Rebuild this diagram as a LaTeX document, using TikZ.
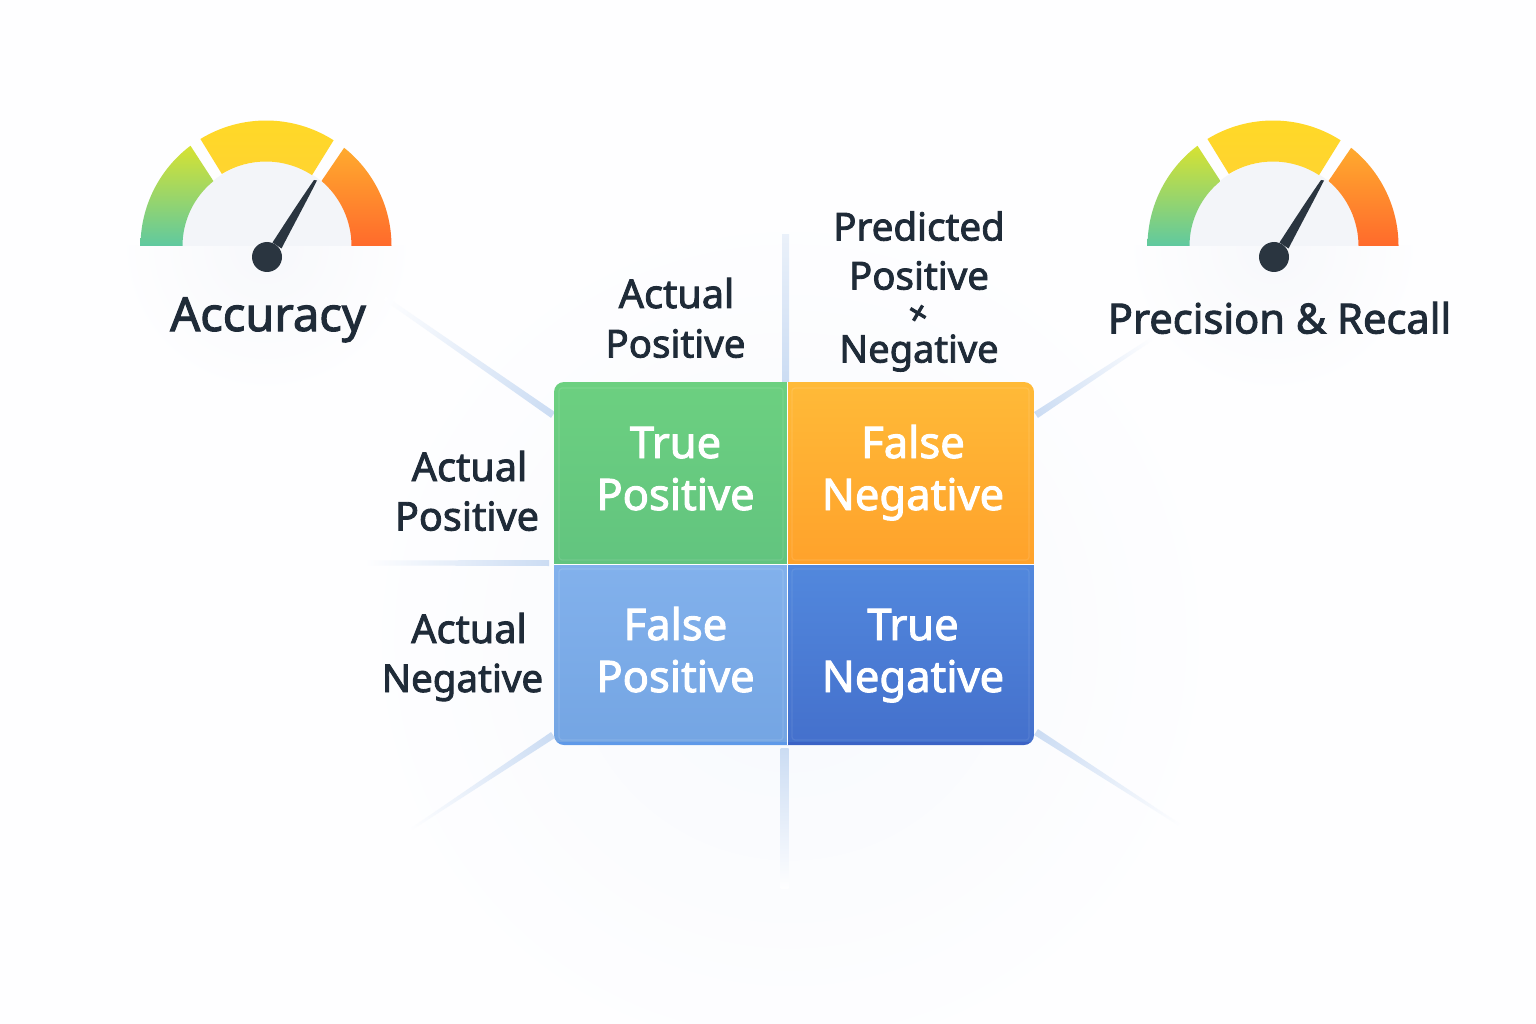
\documentclass[tikz,border=0pt]{standalone}
\usepackage{fontspec}
\setmainfont{Noto Sans}[FakeBold=2.2]
\newfontfamily\markfont{Noto Sans}[FakeBold=4]
\usetikzlibrary{calc}
\definecolor{bgc}{HTML}{FEFEFF}
\definecolor{ink}{HTML}{1F2B38}
\definecolor{faint}{HTML}{CBDCF3}
\definecolor{faintb}{HTML}{DCE7F6}
\definecolor{dial}{HTML}{F3F5F9}
\definecolor{hubc}{HTML}{2A3540}
\tikzset{
  dark label/.style={text=ink,font=\fontsize{38.5}{49}\selectfont,anchor=base,inner sep=0pt},
  dark wide/.style={dark label,font=\fontsize{39.6}{49}\selectfont},
  cell label/.style={text=white,font=\fontsize{43.5}{52}\selectfont,anchor=base,inner sep=0pt},
  title label/.style={text=ink,font=\fontsize{47}{48}\selectfont,anchor=base,inner sep=0pt},
  title small/.style={text=ink,font=\fontsize{41.6}{48}\selectfont,anchor=base,inner sep=0pt},
}
% start colour, end colour, x, y, visual angle, length, width start, width end
\newcommand{\fadeline}[8]{%
  \begin{scope}[transform canvas={shift={(#3,#4)},rotate=#5}]
    \shade[left color=#1,right color=#2] (0,-#7/2) -- (#6,-#8/2) -- (#6,#8/2) -- (0,#7/2) -- cycle;
  \end{scope}}
\newcommand{\gauge}[2]{%
  \begin{scope}[shift={(#1,#2)},x=1pt,y=1pt]
    \fill[dial] (-83.5,0) arc[start angle=180,end angle=0,radius=84.5pt] -- cycle;
    \fill[dial] (0,88) circle[radius=7pt];
    \shade[top color={rgb,255:red,214;green,226;blue,50},middle color={rgb,255:red,165;green,216;blue,80},bottom color={rgb,255:red,95;green,201;blue,160}]
      (180:125.5) arc[start angle=180,end angle=127,radius=125.5pt]
      -- (129:83.5) arc[start angle=129,end angle=180,radius=83.5pt] -- cycle;
    \shade[top color={rgb,255:red,255;green,217;blue,38},bottom color={rgb,255:red,255;green,212;blue,48}]
      (121.5:125.5) arc[start angle=121.5,end angle=57.4,radius=125.5pt]
      -- (57:84.5) arc[start angle=57,end angle=121.5,radius=84.5pt] -- cycle;
    \shade[top color={rgb,255:red,255;green,170;blue,46},bottom color={rgb,255:red,255;green,106;blue,44}]
      (51.5:125.5) arc[start angle=51.5,end angle=0,radius=125.5pt]
      -- (85.5,0) arc[start angle=0,end angle=49.5,radius=85.5pt] -- cycle;
    \fill[hubc] (51,65.5) -- (48,66) .. controls (30,40) and (16,18) .. (6.5,3.5)
      -- (15.5,-2.5) .. controls (26,18) and (38,40) .. cycle;
    \fill[hubc] (1,-11) circle[radius=15pt];
  \end{scope}}
\begin{document}
\begin{tikzpicture}[x=1pt,y=-1pt]
\useasboundingbox (0,0) rectangle (1536,1024);
\fill[bgc] (0,0) rectangle (1536,1024);
% soft glows
\begin{scope}
  \clip (0,0) rectangle (1536,1024);
  \shade[inner color={rgb,255:red,247;green,249;blue,253},outer color=bgc] (790,640) circle[radius=440pt];
  \begin{scope}
    \clip (0,246) rectangle (1536,600);
    \shade[inner color={rgb,255:red,247;green,248;blue,251},outer color=bgc] (266,246) circle[radius=150pt];
    \shade[inner color={rgb,255:red,247;green,248;blue,251},outer color=bgc] (1273,246) circle[radius=150pt];
  \end{scope}
\end{scope}
% faint guide lines
\fadeline{faint}{bgc}{553}{415}{145.2}{205}{7}{4}
\fadeline{faint}{bgc}{1036}{415}{33.3}{140}{7}{3}
\fadeline{faint}{bgc}{553}{735}{-146.4}{172}{7}{2}
\fadeline{faint}{bgc}{1036}{732}{-32.9}{172}{7}{2}
\fadeline{faint}{faintb!60!white}{785.5}{382}{90}{147}{7}{7}
\fadeline{faint}{bgc}{784.7}{748}{-90}{140}{8}{8}
\fadeline{faint}{bgc}{549}{563}{180}{184}{6}{5}
% gauges
\gauge{266}{246}
\gauge{1273}{246}
% matrix cells
\begin{scope}
  \clip[rounded corners=10pt] (554,382) rectangle (1034,745);
  \shade[top color={rgb,255:red,108;green,208;blue,128},bottom color={rgb,255:red,98;green,196;blue,127}] (554,382) rectangle (787.5,564);
  \shade[top color={rgb,255:red,255;green,186;blue,56},bottom color={rgb,255:red,255;green,162;blue,43}] (787.5,382) rectangle (1034,564);
  \shade[top color={rgb,255:red,130;green,177;blue,236},bottom color={rgb,255:red,116;green,165;blue,227}] (554,564) rectangle (787.5,745);
  \shade[top color={rgb,255:red,82;green,136;blue,221},bottom color={rgb,255:red,68;green,112;blue,204}] (787.5,564) rectangle (1034,745);
  \fill[blue!60!cyan,opacity=.18] (554,741.5) rectangle (787,745);
  \fill[blue!60!black,opacity=.12] (788,741.5) rectangle (1034,745);
  \draw[line width=1.5pt,white] (787.5,382) -- (787.5,745) (554,564.5) -- (1034,564.5);
\end{scope}
\draw[white,opacity=.1,line width=1.2pt,rounded corners=3pt] (559,388) rectangle (783,560);
\draw[white,opacity=.1,line width=1.2pt,rounded corners=3pt] (792,388) rectangle (1029,560);
\draw[white,opacity=.12,line width=1.2pt,rounded corners=3pt] (559,569) rectangle (783,740);
\draw[white,opacity=.08,line width=1.2pt,rounded corners=3pt] (792,569) rectangle (1029,740);
% labels
\node[title label] (acc) at (268,331) {Accuracy};
\node[title small] (pr) at (1279.5,333.5) {Precision \& Recall};
\node[dark wide] (top1) at (676.5,308) {Actual};
\node[dark label] (top2) at (675.5,357.5) {Positive};
\node[dark label] (p1) at (919,240.5) {Predicted};
\node[dark label] (p2) at (919,289.5) {Positive};
\node[dark label,anchor=center,font=\markfont\fontsize{30}{30}\selectfont,rotate=14] (p3) at (918.5,315) {×};
\node[dark label,font=\fontsize{38}{49}\selectfont] (p4) at (919,362.5) {Negative};
\node[dark wide] (l1a) at (469.5,481) {Actual};
\node[dark wide] (l1b) at (467,530.5) {Positive};
\node[dark wide] (l2a) at (469,643) {Actual};
\node[dark label] (l2b) at (462.5,692) {Negative};
\node[cell label] (tpa) at (675.5,458) {True};
\node[cell label] (tpb) at (675.5,510) {Positive};
\node[cell label] (fna) at (913,458) {False};
\node[cell label] (fnb) at (913,510) {Negative};
\node[cell label] (fpa) at (675.5,640) {False};
\node[cell label] (fpb) at (675.5,692) {Positive};
\node[cell label] (tna) at (913,640) {True};
\node[cell label] (tnb) at (913,692) {Negative};
\end{tikzpicture}
\end{document}
